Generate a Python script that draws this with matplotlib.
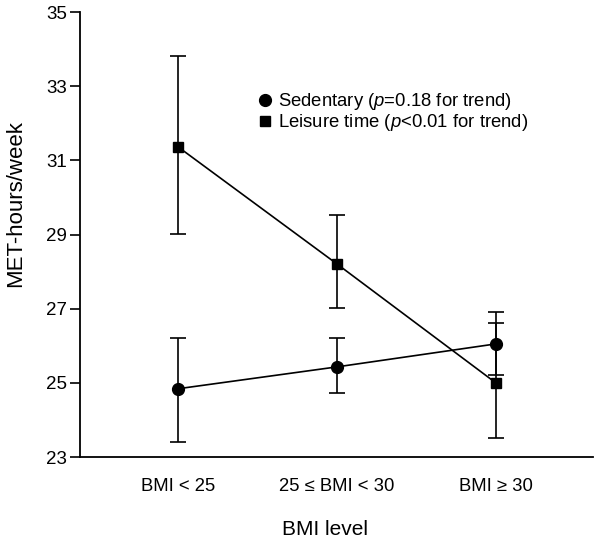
import matplotlib
matplotlib.use('Agg')
import matplotlib.pyplot as plt
from matplotlib.lines import Line2D
import numpy as np

plt.rcParams['font.family'] = ['Liberation Sans', 'DejaVu Sans']
plt.rcParams['mathtext.fontset'] = 'custom'
plt.rcParams['mathtext.it'] = 'Liberation Sans:italic'
plt.rcParams['mathtext.rm'] = 'Liberation Sans'

categories = ['BMI < 25', '25 \u2264 BMI < 30', 'BMI \u2265 30']
sedentary = [24.84, 25.43, 26.05]
sedentary_low = [23.41, 24.73, 25.22]
sedentary_high = [26.21, 26.21, 26.91]
leisure = [31.37, 28.21, 25.0]
leisure_low = [29.02, 27.02, 23.52]
leisure_high = [33.81, 29.53, 26.62]
yticks = [23, 25, 27, 29, 31, 33, 35]
labels = ['Sedentary ($\\mathit{p}$=0.18 for trend)',
          'Leisure time ($\\mathit{p}$<0.01 for trend)']

x = np.arange(len(categories))

fig = plt.figure(figsize=(6, 5.47), dpi=100)
ax = fig.add_axes([0.133, 0.1645, 0.855, 0.8135])

def err(vals, low, high):
    vals = np.array(vals)
    return [vals - np.array(low), np.array(high) - vals]

ax.errorbar(x, sedentary, yerr=err(sedentary, sedentary_low, sedentary_high),
            color='black', marker='o', markersize=8.5, linewidth=1.2,
            elinewidth=1.2, capsize=6, capthick=1.2)
ax.errorbar(x, leisure, yerr=err(leisure, leisure_low, leisure_high),
            color='black', marker='s', markersize=6.5, linewidth=1.2,
            elinewidth=1.2, capsize=6, capthick=1.2)

ax.set_xlim(-0.616, 2.61)
ax.set_ylim(23, 35)
ax.set_yticks(yticks)
ax.set_xticks(x)
ax.set_xticklabels(categories)
ax.tick_params(axis='x', length=0, labelsize=13.3, pad=15)
ax.tick_params(axis='y', length=7, width=1.2, labelsize=13.5, pad=2)
for s in ['top', 'right']:
    ax.spines[s].set_visible(False)
for s in ['left', 'bottom']:
    ax.spines[s].set_linewidth(1.3)

ax.set_ylabel('MET-hours/week', fontsize=16)
ax.yaxis.set_label_coords(-0.104, 0.569)
ax.set_xlabel('BMI level', fontsize=15)
ax.xaxis.set_label_coords(0.478, -0.142)

hs = [Line2D([], [], color='black', marker='o', markersize=8.5, linestyle='none'),
      Line2D([], [], color='black', marker='s', markersize=6.5, linestyle='none')]
fig.legend(hs, labels, loc='upper left', bbox_to_anchor=(0.418, 0.85),
           frameon=False, fontsize=13.3, handlelength=0.5, handletextpad=0.45,
           labelspacing=0.0, borderpad=0)

fig.savefig('out.png', dpi=100)
